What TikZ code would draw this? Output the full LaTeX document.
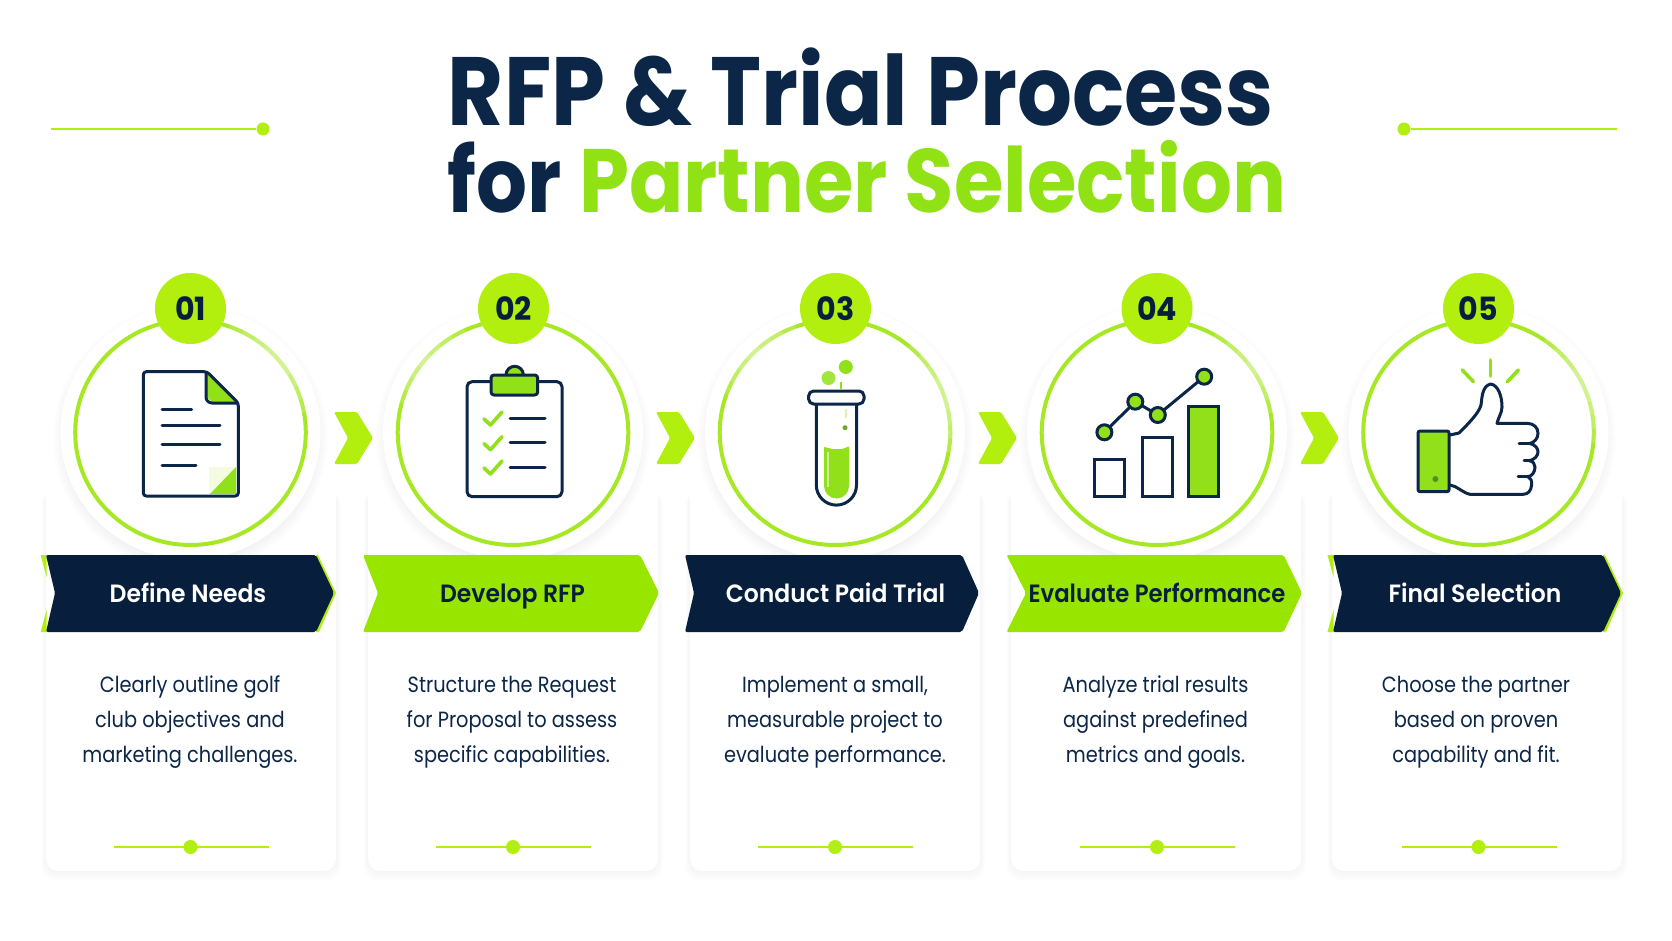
\documentclass[tikz,border=0pt]{standalone}
\usepackage{fontspec}
\setmainfont{Poppins}
\newfontfamily\titlefont[FakeStretch=0.89]{Poppins}
\newfontfamily\badgefont[FakeStretch=0.94]{Poppins}
\newfontfamily\ribfont[FakeStretch=0.94]{Poppins SemiBold}
\newfontfamily\ribfontn[FakeStretch=0.91]{Poppins SemiBold}
\newfontfamily\bodyfont[FakeStretch=0.88]{Poppins}
\definecolor{navyc}{HTML}{0C2648}
\definecolor{navyd}{HTML}{071E3D}
\definecolor{limea}{HTML}{B2EE0E}
\definecolor{limeb}{HTML}{98E600}
\definecolor{limet}{HTML}{90E214}
\definecolor{ringc}{HTML}{A6E824}
\definecolor{icong}{HTML}{92E01A}
\tikzset{
  ic/.style={draw=navyc,line width=3pt,line join=round,line cap=round},
  ticks/.style={draw=icong,line width=3.6pt,line join=round,line cap=round},
  bodytext/.style={align=center,text=navyc,font=\bodyfont\fontsize{22}{34.8}\selectfont},
  ribtext/.style={anchor=base,font=\ribfont\fontsize{25}{28}\selectfont},
  badgenum/.style={circle,fill=limea,minimum size=71pt,inner sep=0pt,text=navyd,font=\badgefont\bfseries\fontsize{32}{36}\selectfont},
  sideline/.style={draw=limea,line width=2pt},
  sidedot/.style={circle,fill=limea,minimum size=13pt,inner sep=0pt},
  carddot/.style={circle,fill=limea,minimum size=14pt,inner sep=0pt}
}
% ribbon: left x, notch x, shoulder x, tip x, colour
\newcommand{\ribbonshape}[5]{%
  \fill[#5,rounded corners=2pt] (#1,555) -- (#3,555) -- (#4,593) -- (#3,632) -- (#1,632) -- (#2,593) -- cycle;}
\newcommand{\glint}[3]{%
  \foreach \k in {0,1,2,3}{
    \draw[white,opacity=.16,line width=4.4pt] ({#1+115.3*cos(#2+\k*7)},{432.5+112.5*sin(#2+\k*7)}) arc[start angle={#2+\k*7},end angle={#3-\k*7},x radius=115.3,y radius=112.5];}}
\begin{document}
\begin{tikzpicture}[x=1pt,y=-1pt]
\useasboundingbox (0,0) rectangle (1672,941);
\fill[white] (0,0) rectangle (1672,941);

% title
\node[anchor=base,text=navyc,font=\titlefont\bfseries\fontsize{97}{100}\selectfont] (title1) at (861,125.7) {RFP \& Trial Process};
\node[anchor=base,text=navyc,font=\titlefont\bfseries\fontsize{90}{100}\selectfont] (title2) at (867,212.7) {for \textcolor{limet}{Partner Selection}};

% side rules
\node[sidedot] (sdl) at (263,129) {};
\coordinate (sll) at (51,129);
\draw[sideline] (sll) -- (sdl);
\node[sidedot] (sdr) at (1404,129) {};
\coordinate (slr) at (1617,129);
\draw[sideline] (sdr) -- (slr);

% cards
\foreach \l in {46,368,690,1011,1332}{
  \foreach \s in {1,...,10}{
    \fill[black,opacity=.0045,rounded corners=14pt] ({\l-\s/2},{490}) rectangle ({\l+290+\s/2},{871+\s});}
  \fill[white,rounded corners=12pt] (\l,470) rectangle ({\l+290},871);
}
% card foot rules
\foreach \i/\c in {1/190.5,2/513,3/835,4/1157,5/1478.5}{
  \node[carddot] (cdot\i) at (\c,847) {};
  \coordinate (cl\i) at ({\c-77},847);
  \coordinate (cr\i) at ({\c+78},847);
  \draw[limea,line width=1.2pt] (cl\i) -- (cr\i);
}

% circles
\foreach \c in {190.5,513,835,1157,1478.5}{
  \foreach \s in {1,...,12}{
    \fill[black,opacity=.0045] (\c,438) ellipse[x radius={126+\s},y radius={123+\s}];}
  \fill[white] (\c,432.5) ellipse[x radius=130,y radius=127];
  \draw[ringc,line width=4pt] (\c,432.5) ellipse[x radius=115.3,y radius=112.5];
}
\glint{190.5}{-70}{-10}
\glint{513}{-165}{-115}
\glint{835}{-160}{-110}
\glint{835}{-50}{10}
\glint{1157}{-60}{-10}
\glint{1478.5}{-55}{5}

% ribbons
\fill[limea] (40.7,555) -- (46.5,555) -- (46.5,577) -- cycle;
\fill[limea] (40.7,632) -- (46.5,632) -- (46.5,610) -- cycle;
\fill[limea] (316,555) -- (318,555) -- (336,593) -- (319,632) -- (316,632) -- cycle;
\fill[limea] (1327.5,555) -- (1333.5,555) -- (1333.5,577) -- cycle;
\fill[limea] (1327.5,632) -- (1333.5,632) -- (1333.5,610) -- cycle;
\fill[limea] (1603,555) -- (1605,555) -- (1623,593) -- (1606,632) -- (1603,632) -- cycle;
\ribbonshape{46}{55}{316}{334}{navyd}
\ribbonshape{363}{378}{640}{659}{limeb}
\ribbonshape{685}{694}{962}{979}{navyd}
\ribbonshape{1006.5}{1026}{1283.6}{1302}{limeb}
\ribbonshape{1333}{1342}{1603}{1621}{navyd}
\node[ribtext,text=white] (rib1) at (188,602.3) {Define Needs};
\node[ribtext,text=navyd] (rib2) at (512.5,602.3) {Develop RFP};
\node[ribtext,text=white] (rib3) at (835.5,602.3) {Conduct Paid Trial};
\node[ribtext,text=navyd,font=\ribfontn\fontsize{25}{28}\selectfont] (rib4) at (1157,602.3) {Evaluate Performance};
\node[ribtext,text=white] (rib5) at (1475,602.3) {Final Selection};

% chevrons
\foreach \x in {334,656,978,1300}{
  \fill[limea,rounded corners=1.5pt] (\x,412) -- ({\x+23},412) -- ({\x+39},438) -- ({\x+23},464) -- (\x,464) -- ({\x+14},438) -- cycle;
}

% badges
\node[badgenum] (b1) at (190.5,308.5) {01};
\node[badgenum] (b2) at (513.5,308.5) {02};
\node[badgenum] (b3) at (835.5,308.5) {03};
\node[badgenum] (b4) at (1157,308.5) {04};
\node[badgenum] (b5) at (1478.5,308.5) {05};

% card texts
\node[bodytext] (txt1) at (190,722) {Clearly outline golf\\club objectives and\\marketing challenges.};
\node[bodytext] (txt2) at (512,722) {Structure the Request\\for Proposal to assess\\specific capabilities.};
\node[bodytext] (txt3) at (835,722) {Implement a small,\\measurable project to\\evaluate performance.};
\node[bodytext] (txt4) at (1155.5,722) {Analyze trial results\\against predefined\\metrics and goals.};
\node[bodytext] (txt5) at (1476,722) {Choose the partner\\based on proven\\capability and fit.};

% icon 1: document
\fill[icong] (207,373) -- (237,403) -- (213,403) -- (207,397) -- cycle;
\fill[limeb!12!white] (209,467) rectangle (236,494);
\fill[icong] (236,467) -- (236,494) -- (210,494) -- cycle;
\draw[ic,rounded corners=3pt] (143.3,371.7) -- (207,371.7) -- (238.3,403) -- (238.3,496) -- (143.3,496) -- cycle;
\draw[ic,rounded corners=6pt] (206,372.5) -- (206,403) -- (237,403);
\draw[ic] (162,409.3) -- (191.7,409.3);
\draw[ic] (162,425.7) -- (220,425.7);
\draw[ic] (162,444.7) -- (220,444.7);
\draw[ic] (162,465) -- (196,465);

% icon 2: clipboard
\draw[ic,rounded corners=5pt] (467,381.7) rectangle (562,496.7);
\draw[ic,fill=icong] (506,375) arc[start angle=180,end angle=360,radius=8.7];
\draw[ic,fill=icong,rounded corners=3pt] (491,375) rectangle (537.7,395);
\foreach \y in {418,442.7,467}{
  \draw[ticks] (484,{\y+1}) -- (490.5,{\y+7}) -- (502,{\y-6});
  \draw[ic] (510,\y) -- (545,\y);
}

% icon 3: test tube
\fill[icong] (845.8,367) circle[radius=7];
\fill[icong!85!white] (828.5,378) circle[radius=7];
\draw[icong,line width=1.6pt] (841,382) -- (841,389);
\fill[icong] (824,447) -- (832,449) -- (842,449) -- (849,446.5) -- (849,486) arc[start angle=0,end angle=180,radius=12.5] -- cycle;
\draw[icong!45!white,line width=1.6pt] (828,452) -- (828,487);
\draw[ic] (816.3,404) -- (816.3,485) arc[start angle=180,end angle=0,radius=20.1] -- (856.5,404);
\draw[ic,fill=white,rounded corners=5pt] (808.6,391) rectangle (864,404);
\fill[icong!70!navyc] (845,427.7) circle[radius=2.5];
\fill[icong!35!white] (845,409) rectangle (846.5,418);

% icon 4: chart
\draw[ic,line cap=butt,line join=miter] (1094.7,459.3) rectangle (1124.7,496.7);
\draw[ic,line cap=butt,line join=miter] (1142,437.7) rectangle (1172,496.7);
\draw[ic,line cap=butt,line join=miter,fill=icong] (1188,406.7) rectangle (1218,496.7);
\draw[ic] (1104.4,432.3) -- (1135.3,401.7) -- (1157.8,415) -- (1204.2,376.7);
\foreach \p in {(1104.4,432.3),(1135.3,401.7),(1157.8,415),(1204.2,376.7)}{
  \draw[ic,fill=icong] \p circle[radius=7.5];
}

% icon 5: thumb
\draw[ic,fill=white] (1450,435) -- (1459,433) .. controls (1468,424) and (1479,413) .. (1481,405)
  .. controls (1482,398) and (1482,386) .. (1490.6,384) .. controls (1498,385) and (1502,396) .. (1502,407)
  .. controls (1502,413) and (1498,418) .. (1497,423.3) -- (1527,423.3) .. controls (1534,423.3) and (1538,428) .. (1538,433)
  .. controls (1538,438) and (1535,442) .. (1530,443.5) .. controls (1536,445) and (1538,449) .. (1538,452)
  .. controls (1538,456) and (1534,460) .. (1529,460.7) .. controls (1533,461) and (1535,464) .. (1535,467)
  .. controls (1535,472) and (1532,476) .. (1528,476.7) .. controls (1531,478) and (1532,481) .. (1531.6,485)
  .. controls (1531,491) and (1528,494.3) .. (1523,494.3) -- (1470,494.3) .. controls (1463,493) and (1457,486) .. (1450,485);
\draw[ic] (1519,443.5) -- (1530,443.5);
\draw[ic] (1524,460.7) -- (1529,460.7);
\draw[ic] (1518,476.7) -- (1528,476.7);
\draw[ic,fill=icong,rounded corners=2pt] (1418,431) rectangle (1449,491.7);
\fill[navyc!45!icong] (1435.4,479) circle[radius=3];
\draw[ticks] (1490.6,360) -- (1490.6,376);
\draw[ticks] (1462.3,370) -- (1473.4,381.7);
\draw[ticks] (1518.4,370) -- (1507.4,381.7);
\end{tikzpicture}
\end{document}
